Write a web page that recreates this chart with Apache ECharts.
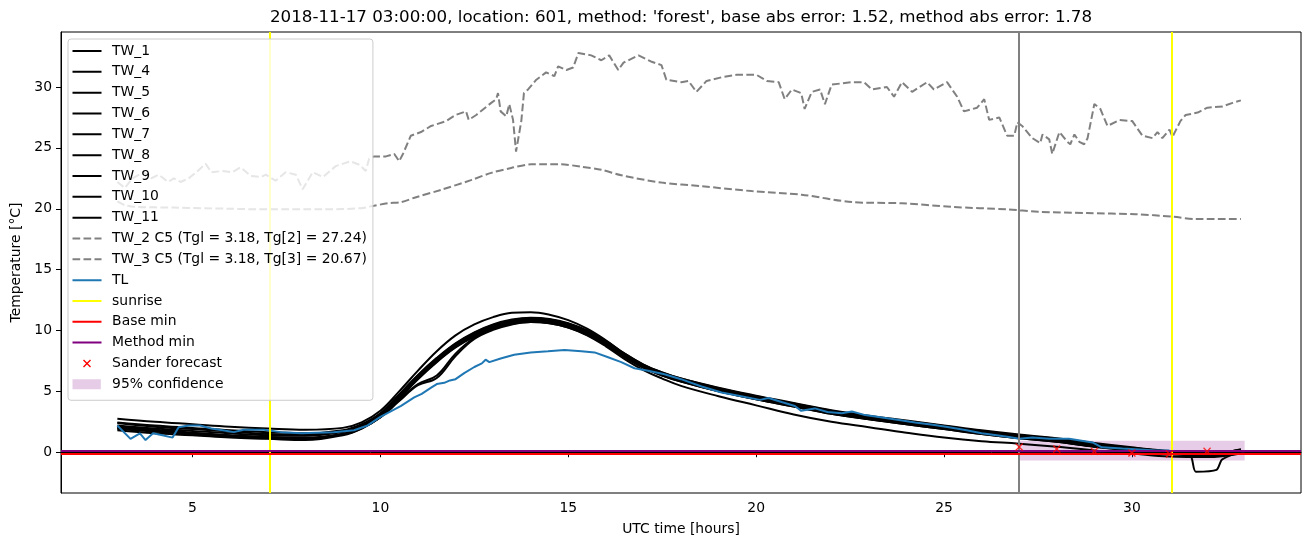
<!DOCTYPE html>
<html><head><meta charset="utf-8">
<script src="https://cdn.jsdelivr.net/npm/echarts@6/dist/echarts.min.js"></script>
<style>html,body{margin:0;padding:0;background:#fff}#c{width:1310px;height:547px}</style>
</head><body><div id="c"></div>
<script>
// ---------- data ----------
const xTicks = [5, 10, 15, 20, 25, 30];
const yTicks = [0, 5, 10, 15, 20, 25, 30];

const hoursTW = [3,4,5,6,7,8,9,9.5,10,10.5,11,11.5,12,12.5,13,13.5,14,14.5,15,15.5,16,16.5,17,17.5,18,19,20,21,22,23,24,25,26,27,28,29,30,31,32,32.9];
const tw1  = [2.75,2.5,2.3,2.1,1.95,1.85,2.0, 2.45,3.4,5.0,6.7,8.3,9.6,10.5,11.1,11.45,11.5,11.3,10.85,10.15,9.2,8.1,7.2,6.55,6.05, 5.25,4.6,4.0,3.4,2.95,2.55,2.15,1.75,1.4,1.1,0.7,0.35,0.05,-0.15, 0.25];
const tw4  = [2.45,2.2,2.0,1.8,1.65,1.55,1.8, 2.3,3.2,4.75,6.35,7.75,8.95,9.85,10.5,10.9,11.05,10.95,10.6,10.0,9.15,8.1,7.2,6.55,6.05, 5.3,4.65,4.05,3.45,3.0,2.6,2.2,1.8,1.45,1.15,0.75,0.4,0.1,-0.1, 0.2];
const tw5  = [2.2,1.95,1.75,1.55,1.4,1.35,1.65, 2.15,3.05,4.6,6.2,7.6,8.8,9.7,10.35,10.75,10.9,10.8,10.45,9.85,9.0,8.0,7.1,6.45,5.95, 5.15,4.5,3.9,3.3,2.85,2.45,2.05,1.65,1.3,1.0,0.6,0.3,0.0,-0.2, 0.05];
const tw6  = [2.1,1.85,1.6,1.4,1.25,1.2,1.5, 2.05,2.9,4.3,5.6,6.3,8.1,9.4,10.15,10.6,10.75,10.7,10.35,9.75,8.9,7.9,7.0,6.35,5.85, 5.05,4.4,3.8,3.2,2.75,2.35,1.95,1.55,1.2,0.9,0.5,0.2,-0.1,-0.25, -0.05];
const tw7  = [2.0,1.75,1.55,1.35,1.2,1.15,1.45, 2.0,2.85,4.2,5.5,6.1,7.9,9.3,10.05,10.5,10.7,10.6,10.25,9.65,8.8,7.8,6.95,6.3,5.8, 5.0,4.35,3.75,3.15,2.7,2.3,1.9,1.5,1.15,0.85,0.45,0.15,-0.15,-0.3, -0.1];
const tw8  = [1.9,1.7,1.5,1.35,1.2,1.15,1.5, 2.0,2.95,4.5,6.1,7.5,8.7,9.6,10.25,10.65,10.8,10.7,10.35,9.75,8.9,7.9,7.0,6.35,5.85, 5.05,4.4,3.8,3.2,2.75,2.35,1.95,1.55,1.2,0.9,0.5,0.2,-0.1,-0.25, 0.0];
const tw9  = [1.8,1.55,1.4,1.2,1.1,1.0,1.4, 1.95,2.9,4.4,6.0,7.4,8.6,9.5,10.15,10.55,10.7,10.6,10.25,9.6,8.7,7.65,6.75,6.05,5.45, 4.6,3.85,3.1,2.5,2.05,1.6,1.2,0.9,0.7,0.45,0.15,-0.1,-0.35,-0.4, -0.1];
const tw10 = [2.4,2.1,1.9,1.7,1.5,1.45,1.7, 2.2,3.15,4.7,6.3,7.7,8.9,9.8,10.45,10.85,11.0,10.9,10.55,9.95,9.1,8.05,7.15,6.5,6.0, 5.2,4.55,3.95,3.35,2.9,2.5,2.1,1.7,1.35,1.05,0.65,0.35,0.05,-0.15, 0.2];
const hoursTW11 = [3,4,5,6,7,8,9,9.5,10,10.5,11,11.5,12,12.5,13,13.5,14,14.5,15,15.5,16,16.5,17,17.5,18,19,20,21,22,23,24,25,26,27,28,29,30,31,31.55,31.7,32.25,32.4,32.9];
const tw11 = [2.0,1.75,1.5,1.3,1.15,1.1,1.45, 1.95,2.9,4.45,6.05,7.45,8.65,9.55,10.2,10.6,10.75,10.65,10.3,9.7,8.85,7.85,6.95,6.3,5.8, 5.0,4.35,3.75,3.15,2.7,2.3,1.9,1.5,1.15,0.85,0.45,0.15,-0.15, -0.25,-1.6,-1.45,-0.6,0.05];

const tw2Hours = [3.0,3.2,3.4,3.7,3.9,4.1,4.35,4.5,4.68,4.9,5.1,5.35,5.5,5.8,6.05,6.28,6.55,6.82,6.95,7.21,7.48,7.75,7.93,8.2,8.47,8.81,9.2,9.45,9.61,9.7,9.83,10.15,10.37,10.5,10.6,10.81,11.08,11.35,11.75,12.0,12.28,12.35,12.55,12.95,13.08,13.13,13.2,13.35,13.43,13.53,13.61,13.75,13.82,13.93,14.15,14.41,14.63,14.73,14.95,15.13,15.27,15.61,15.88,16.09,16.33,16.47,16.87,17.2,17.48,17.61,18.01,18.2,18.41,18.68,19.08,19.48,20.01,20.28,20.6,20.76,20.95,21.2,21.29,21.48,21.7,21.83,22.01,22.55,22.87,23.08,23.48,23.67,23.88,24.15,24.55,24.73,25.08,25.35,25.53,25.88,26.07,26.2,26.47,26.68,26.87,26.95,27.08,27.35,27.56,27.62,27.8,27.88,28.07,28.28,28.36,28.47,28.6,28.73,28.82,29.0,29.16,29.35,29.67,30.01,30.28,30.55,30.68,30.81,31.0,31.08,31.29,31.43,31.75,32.01,32.41,32.68,32.9];
const tw2Values = [22.2,21.7,22.5,23.0,22.5,22.8,22.2,22.5,22.2,22.5,
  23.0,23.7,23.0,23.1,23.0,23.4,22.7,22.6,22.8,22.3,
  23.0,22.8,21.6,23.0,22.6,23.5,23.9,23.6,23.1,24.1,
  24.3,24.3,24.5,23.9,24.5,26.0,26.3,26.8,27.2,27.7,
  28.0,27.3,27.7,28.7,29.0,29.5,28.0,27.6,28.6,27.3,
  24.7,27.2,29.5,29.8,30.6,31.2,30.9,31.7,31.4,31.6,
  32.8,32.6,32.2,32.6,31.4,32.0,32.6,32.1,31.8,30.6,
  30.4,30.5,29.6,30.5,30.8,31.0,31.0,30.5,30.4,29.0,
  29.8,29.5,28.2,29.6,29.8,28.6,30.2,30.4,30.4,29.8,
  30.0,29.2,30.4,29.6,30.4,29.8,30.4,29.2,28.0,28.3,
  29.0,27.3,27.5,26.0,26.0,27.1,26.8,25.8,25.4,26.1,
  25.7,24.5,26.3,25.5,25.3,26.1,25.5,25.3,25.8,28.6,
  28.2,26.8,27.3,27.2,26.0,25.8,26.3,25.8,26.5,25.9,
  27.2,27.7,27.9,28.3,28.4,28.7,28.9];

const tw3Hours = [3.0,3.2,3.5,4.5,6,7,8.5,9.48,9.83,10.2,10.55,10.95,11.61,12.41,12.95,13.48,14.01,14.81,15.35,15.88,16.41,17.48,18.55,19.88,21.21,22.55,23.88,25.21,26.68,27.5,28.8,30.1,31.1,31.7,32.9];
const tw3Values = [20.6,20.3,20.15,20.1,20.0,19.95,19.95,20.05,20.25,20.45,20.55,20.95,21.55,22.35,22.95,23.35,23.65,23.65,23.45,23.2,22.75,22.15,21.85,21.45,21.15,20.55,20.45,20.15,19.95,19.75,19.65,19.55,19.35,19.15,19.15];

const tlHours = [3,3.35,3.6,3.75,3.95,4.2,4.47,4.63,4.9,5.2,5.5,5.8,6.1,6.36,6.9,7.35,7.9,8.3,8.76,9.3,9.66,10,10.3,10.55,10.9,11.1,11.35,11.5,11.7,11.85,12,12.23,12.5,12.7,12.8,12.9,13.2,13.56,14,14.46,14.9,15.35,15.7,16.06,16.41,16.76,17.13,17.56,18,18.55,19.08,19.6,20.1,20.33,20.7,21.03,21.2,21.56,21.9,22.28,22.55,22.9,23.35,23.8,24.23,24.7,25.13,25.6,26,26.4,26.73,27,27.35,27.8,28.33,28.95,29.2,29.75,30.1,30.63,31];
const tlValues = [2.2,1.1,1.55,1.0,1.55,1.4,1.2,2.05,2.2,2.2,1.95,1.8,1.65,1.85,1.85,1.65,1.55,1.6,1.65,1.8,2.2,2.9,3.4,3.8,4.5,4.8,5.3,5.6,5.7,5.9,6.0,6.5,7.0,7.3,7.6,7.4,7.7,8.0,8.2,8.3,8.4,8.3,8.2,7.8,7.4,6.9,6.7,6.4,6.0,5.4,4.9,4.6,4.3,4.45,4.1,3.8,3.4,3.6,3.3,3.2,3.35,3.05,2.85,2.65,2.45,2.25,2.05,1.8,1.55,1.4,1.25,1.1,1.2,1.1,1.1,0.8,0.4,0.3,0.25,0.15,0.15];

const sunriseHours = [7.05, 31.07];
const forecastHour = [27];
const baseMin = -0.14;
const methodMin = 0.1;
const sanderHours = [27, 28, 29, 30, 31, 32];
const sanderValues = [0.43, 0.26, 0.07, -0.07, -0.15, 0.07];
const confHours = [27, 33];
const confLow = -0.67;
const confHigh = 0.94;

const titleText = "2018-11-17 03:00:00, location: 601, method: 'forest', base abs error: 1.52, method abs error: 1.78";
const tw2Name = 'TW_2 C5 (Tgl = 3.18, Tg[2] = 27.24)';
const tw3Name = 'TW_3 C5 (Tgl = 3.18, Tg[3] = 20.67)';

// ---------- build ----------
const zip = (xs, ys) => xs.map((x, i) => [x, ys[i]]);
const FONT = 'DejaVu Sans';
const dot = (x, y) => `M${x},${y}h0.01v0.01h-0.01z`;
const bbox = dot(0, 0) + dot(34.59, 9.99);
const lineIcon = 'path://M0,4h29v2h-29z' + bbox;
const dashIcon = 'path://M0,4h7.7v2h-7.7z M11,4h7.7v2h-7.7z M22,4h7v2h-7z' + bbox;
const xIcon = 'path://M10.5,1.96L11.46,1L14.5,4.04L17.54,1L18.5,1.96L15.46,5L18.5,8.04L17.54,9L14.5,5.96L11.46,9L10.5,8.04L13.54,5Z' + bbox;
const rectIcon = 'path://M0,0h28.3v10h-28.3z' + bbox;
const xSymbol = 'path://M0,1.2L1.2,0L5,3.8L8.8,0L10,1.2L6.2,5L10,8.8L8.8,10L5,6.2L1.2,10L0,8.8L3.8,5Z';

const twList = [
  ['TW_1', hoursTW, tw1], ['TW_4', hoursTW, tw4], ['TW_5', hoursTW, tw5],
  ['TW_6', hoursTW, tw6], ['TW_7', hoursTW, tw7], ['TW_8', hoursTW, tw8],
  ['TW_9', hoursTW, tw9], ['TW_10', hoursTW, tw10], ['TW_11', hoursTW11, tw11]
];

const series = [];
twList.forEach(([name, xs, ys]) => {
  series.push({
    type: 'line', name, data: zip(xs, ys), symbol: 'none', showSymbol: false,
    smooth: name === 'TW_11' ? 0.25 : 0.4, silent: true, z: 2,
    color: '#000000', lineStyle: { color: '#000000', width: 2 }
  });
});
series.push({ type: 'line', name: tw2Name, data: zip(tw2Hours, tw2Values), symbol: 'none', silent: true, z: 3,
  color: '#808080', lineStyle: { color: '#808080', width: 2, type: [7.7, 3.3] } });
series.push({ type: 'line', name: tw3Name, data: zip(tw3Hours, tw3Values), symbol: 'none', silent: true, z: 3,
  smooth: 0.3, color: '#808080', lineStyle: { color: '#808080', width: 2, type: [7.7, 3.3] } });
series.push({ type: 'line', name: 'TL', data: zip(tlHours, tlValues), symbol: 'none', silent: true, z: 4,
  color: '#1f77b4', lineStyle: { color: '#1f77b4', width: 2 } });
series.push({ type: 'line', name: 'sunrise', data: [], z: 5, color: '#ffff00',
  markLine: { silent: true, symbol: 'none', label: { show: false }, animation: false,
    lineStyle: { color: '#ffff00', width: 2, type: 'solid' },
    data: sunriseHours.map(h => ({ xAxis: h })) } });
series.push({ type: 'line', name: 'forecast', data: [], z: 5, color: '#808080',
  markLine: { silent: true, symbol: 'none', label: { show: false }, animation: false,
    lineStyle: { color: '#808080', width: 2, type: 'solid' },
    data: forecastHour.map(h => ({ xAxis: h })) } });
series.push({ type: 'line', name: 'Base min', data: [], z: 6, color: '#ff0000',
  markLine: { silent: true, symbol: 'none', label: { show: false }, animation: false,
    lineStyle: { color: '#ff0000', width: 2, type: 'solid' }, data: [{ yAxis: baseMin }] } });
series.push({ type: 'line', name: 'Method min', data: [], z: 6, color: '#800080',
  markLine: { silent: true, symbol: 'none', label: { show: false }, animation: false,
    lineStyle: { color: '#800080', width: 2, type: 'solid' }, data: [{ yAxis: methodMin }] } });
series.push({ type: 'scatter', name: 'Sander forecast', data: zip(sanderHours, sanderValues), z: 7,
  symbol: xSymbol, symbolSize: 8, silent: true, itemStyle: { color: '#ff0000' } });
series.push({ type: 'line', name: '95% confidence', data: [], z: 8, color: 'rgba(128,0,128,0.2)',
  markArea: { silent: true, animation: false, itemStyle: { color: 'rgba(128,0,128,0.2)', borderWidth: 0 },
    data: [[{ xAxis: confHours[0], yAxis: confLow }, { xAxis: confHours[1], yAxis: confHigh }]] } });

const legendItem = (name, icon, color) => ({ name, icon, itemStyle: { color, borderWidth: 0, opacity: 1 } });
const legendData = twList.map(t => legendItem(t[0], lineIcon, '#000000')).concat([
  legendItem(tw2Name, dashIcon, '#808080'),
  legendItem(tw3Name, dashIcon, '#808080'),
  legendItem('TL', lineIcon, '#1f77b4'),
  legendItem('sunrise', lineIcon, '#ffff00'),
  legendItem('Base min', lineIcon, '#ff0000'),
  legendItem('Method min', lineIcon, '#800080'),
  legendItem('Sander forecast', xIcon, '#ff0000'),
  legendItem('95% confidence', rectIcon, 'rgba(128,0,128,0.2)')
]);

const axisCommon = {
  type: 'value',
  axisLine: { show: true, lineStyle: { color: '#000', width: 1 } },
  splitLine: { show: false },
  nameLocation: 'middle',
  nameTextStyle: { fontSize: 13.9, color: '#000', fontFamily: FONT }
};

const option = {
  animation: false,
  textStyle: { fontFamily: FONT },
  title: {
    text: titleText, left: 676, top: 4, textAlign: 'center',
    textStyle: { fontSize: 16.7, fontWeight: 'normal', color: '#000', fontFamily: FONT }
  },
  legend: {
    orient: 'vertical', left: 68, top: 39, padding: [5, 6, 9, 4.5],
    itemGap: 6.83, itemWidth: 34.6, itemHeight: 10, selectedMode: false,
    backgroundColor: 'rgba(255,255,255,0.8)', borderColor: '#cccccc', borderWidth: 1, borderRadius: 3,
    textStyle: { fontSize: 13.9, color: '#000', fontFamily: FONT, lineHeight: 14 },
    data: legendData, z: 20
  },
  grid: { left: 61, top: 32, width: 1240, height: 461, show: true, borderColor: '#000', borderWidth: 1,
    containLabel: false, outerBoundsMode: 'none' },
  xAxis: Object.assign({}, axisCommon, {
    min: 1.5, max: 34.5, name: 'UTC time [hours]', nameGap: 29,
    axisTick: { show: true, customValues: xTicks, length: 5, lineStyle: { color: '#000' } },
    axisLabel: { customValues: xTicks, fontSize: 13.9, color: '#000', fontFamily: FONT, margin: 8 }
  }),
  yAxis: Object.assign({}, axisCommon, {
    min: -3.35, max: 34.52, name: 'Temperature [°C]', nameGap: 36,
    axisTick: { show: true, customValues: yTicks, length: 5, lineStyle: { color: '#000' } },
    axisLabel: { customValues: yTicks, fontSize: 13.9, color: '#000', fontFamily: FONT, margin: 9 }
  }),
  series
};

const chart = echarts.init(document.getElementById('c'), null, { renderer: 'canvas', width: 1310, height: 547 });
chart.setOption(option);
</script>
</body></html>
